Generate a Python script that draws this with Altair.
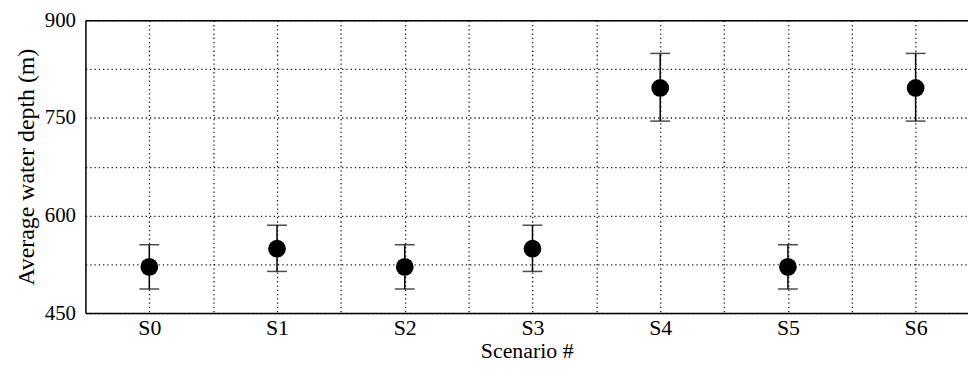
import json
import altair as alt
import pandas as pd

categories = ["S0", "S1", "S2", "S3", "S4", "S5", "S6"]
mean_depth = [521, 549, 521, 549, 796, 521, 796]
lower = [487, 514, 487, 514, 745, 487, 745]
upper = [555, 585, 555, 585, 849, 555, 849]

y_grid = [450, 525, 600, 675, 750, 825, 900]
x_grid = [i * 0.5 for i in range(0, 14)]

df = pd.DataFrame({
    "scenario": categories,
    "idx": list(range(len(categories))),
    "mean": mean_depth,
    "lo": lower,
    "hi": upper,
})

FONT = "Liberation Serif"
cats_js = json.dumps(categories)

x_scale = alt.Scale(domain=[-0.5, 6.41], nice=False, zero=False)
y_scale = alt.Scale(domain=[450, 900], nice=False, zero=False)

x_axis = alt.Axis(
    title="Scenario #", values=x_grid, orient="bottom",
    labelExpr=f"datum.value % 1 === 0 ? {cats_js}[datum.value] : ''",
    grid=True, gridColor="#000", gridDash=[1.3, 3], gridWidth=1.3, gridOpacity=0.9,
    ticks=False, domain=True, domainColor="#000", domainWidth=1.5,
    labelFont=FONT, labelFontSize=22, labelColor="#000", labelPadding=5,
    titleFont=FONT, titleFontSize=22, titleFontWeight="normal", titleColor="#000",
    titlePadding=2, labelOverlap=False,
)
y_axis = alt.Axis(
    title="Average water depth (m)", values=y_grid,
    labelExpr="datum.value % 150 === 0 ? datum.label : ''",
    grid=True, gridColor="#000", gridDash=[1.3, 3], gridWidth=1.3, gridOpacity=0.9,
    ticks=False, domain=True, domainColor="#000", domainWidth=1.5,
    labelFont=FONT, labelFontSize=21, labelColor="#000", labelPadding=10,
    titleFont=FONT, titleFontSize=24, titleFontWeight="normal", titleColor="#000",
    titlePadding=6, labelOverlap=False, format="d",
)

base = alt.Chart(df)

bars = base.mark_rule(color="#000", strokeWidth=1.5).encode(
    x=alt.X("idx:Q", scale=x_scale, axis=x_axis),
    y=alt.Y("lo:Q", scale=y_scale, axis=y_axis),
    y2="hi:Q",
)
caps_lo = base.mark_tick(color="#000", orient="horizontal", size=20, thickness=1.5).encode(
    x=alt.X("idx:Q", scale=x_scale, axis=None),
    y=alt.Y("lo:Q", scale=y_scale, axis=y_axis),
)
caps_hi = base.mark_tick(color="#000", orient="horizontal", size=20, thickness=1.5).encode(
    x=alt.X("idx:Q", scale=x_scale, axis=None),
    y=alt.Y("hi:Q", scale=y_scale, axis=y_axis),
)
points = base.mark_point(filled=True, shape="circle", size=320, color="#000", opacity=1).encode(
    x=alt.X("idx:Q", scale=x_scale, axis=None),
    y=alt.Y("mean:Q", scale=y_scale, axis=y_axis),
)
top_border = base.mark_point(opacity=0).encode(
    x=alt.X("idx:Q", scale=x_scale, axis=alt.Axis(
        orient="top", labels=False, ticks=False, grid=False, title=None,
        domain=True, domainColor="#000", domainWidth=1.5)),
    y=alt.Y("mean:Q", scale=y_scale, axis=y_axis),
)

chart = alt.layer(bars, caps_lo, caps_hi, points, top_border).resolve_axis(
    x="independent"
).properties(
    width=889, height=295,
    autosize=alt.AutoSizeParams(type="none"),
    padding={"left": 78, "top": 11, "right": 0, "bottom": 53},
    background="white",
).configure_view(stroke=None).configure(font=FONT).configure_axis(
    labelFont=FONT, titleFont=FONT
)

chart.save("out.html", embed_options={"renderer": "svg", "actions": False})
